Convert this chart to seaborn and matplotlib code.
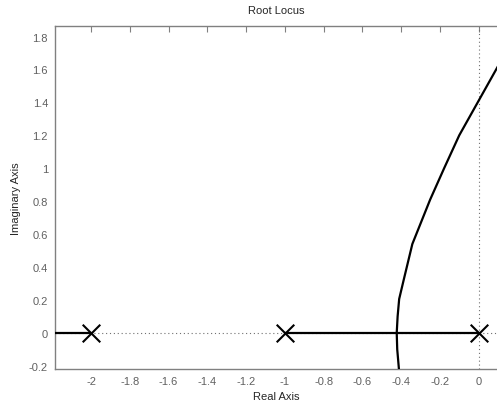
import numpy as np
import pandas as pd
import matplotlib
matplotlib.use("Agg")
import matplotlib.pyplot as plt
from matplotlib.ticker import FuncFormatter
import seaborn as sns

# open-loop poles
pole_re = [-2.0, -1.0, 0.0]
pole_im = [0.0, 0.0, 0.0]

# locus branches
left_re = [-2.5, -2.0]
left_im = [0.0, 0.0]
mid_re = [-1.0, 0.0]
mid_im = [0.0, 0.0]
upper_re = [-0.4226, -0.418, -0.41, -0.385, -0.342, -0.25, -0.178, -0.1, 0.0, 0.1, 0.12]
upper_im = [0.0, 0.1, 0.206, 0.33, 0.54, 0.81, 1.0, 1.2, 1.41, 1.62, 1.66]
lower_re = [-0.4226, -0.42, -0.409]
lower_im = [0.0, -0.1, -0.25]

x_ticks = [-2, -1.8, -1.6, -1.4, -1.2, -1, -0.8, -0.6, -0.4, -0.2, 0]
y_ticks = [-0.2, 0, 0.2, 0.4, 0.6, 0.8, 1, 1.2, 1.4, 1.6, 1.8]

sns.set_style("white")
plt.rcParams['font.family'] = ['Liberation Sans', 'DejaVu Sans']

fig = plt.figure(figsize=(4.97, 4.06), dpi=100)
ax = fig.add_axes([0.1107, 0.0887, 0.8913, 0.8448])

# dotted reference axes
ax.axhline(0, color="#707070", linestyle=(0, (1, 2.5)), linewidth=0.8, zorder=1)
ax.axvline(0, color="#707070", linestyle=(0, (1, 2.5)), linewidth=0.8, zorder=1)

for re, im in [(left_re, left_im), (mid_re, mid_im), (upper_re, upper_im), (lower_re, lower_im)]:
    sns.lineplot(x=re, y=im, sort=False, estimator=None, color="black",
                 linewidth=1.6, ax=ax, zorder=3)

sns.scatterplot(x=pole_re, y=pole_im, marker="x", s=160, color="black",
                linewidth=1.5, ax=ax, zorder=4)

ax.set_xlim(-2.186, 0.1)
ax.set_ylim(-0.219, 1.864)
ax.set_xticks(x_ticks)
ax.set_yticks(y_ticks)
fmt = FuncFormatter(lambda v, p: "%g" % round(v, 2))
ax.xaxis.set_major_formatter(fmt)
ax.yaxis.set_major_formatter(fmt)

ax.tick_params(direction="in", length=4, width=0.8, colors="#808080",
               labelcolor="#606060", labelsize=8, top=True, right=False, pad=5)
ax.spines["right"].set_visible(False)
for s in ax.spines.values():
    s.set_color("#808080")
    s.set_linewidth(1.0)

ax.set_title("Root Locus", fontsize=8, pad=9)
ax.set_xlabel("Real Axis", fontsize=8, labelpad=4)
ax.set_ylabel("Imaginary Axis", fontsize=8, labelpad=6)

fig.savefig("out.png", dpi=100)
